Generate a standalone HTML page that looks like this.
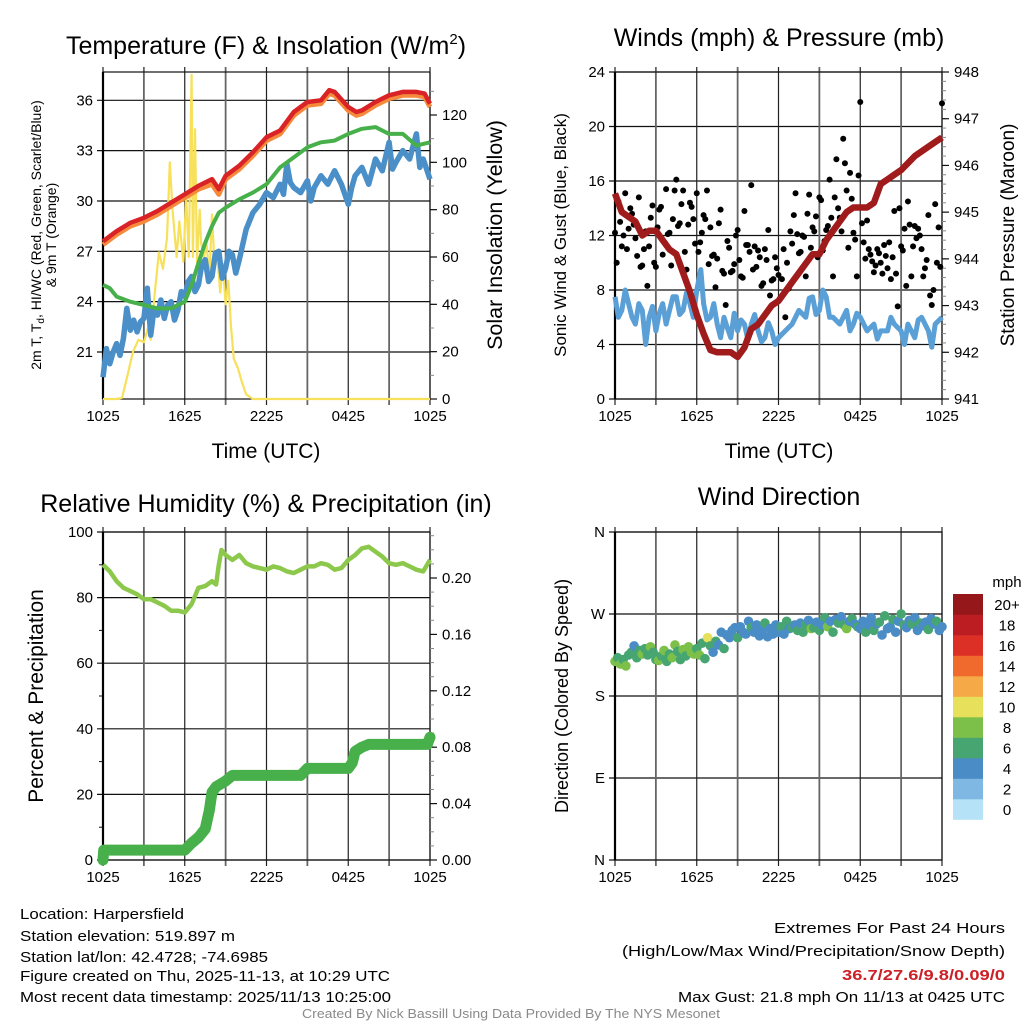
<!DOCTYPE html>
<html><head><meta charset="utf-8"><style>
html,body{margin:0;padding:0;background:#fff;}
svg{display:block;font-family:"Liberation Sans",sans-serif;}
.nar{font-family:"Liberation Sans Narrow","Liberation Sans",sans-serif;}
</style></head><body>
<svg id="c" width="1024" height="1024" viewBox="0 0 1024 1024" xmlns="http://www.w3.org/2000/svg">
<rect width="1024" height="1024" fill="#fff"/>
<g id="texts">
<text x="266" y="54" font-size="25" text-anchor="middle">Temperature (F) &amp; Insolation (W/m<tspan font-size="15" dy="-10">2</tspan><tspan dy="10">)</tspan></text>
<text x="779" y="46" font-size="25" text-anchor="middle">Winds (mph) &amp; Pressure (mb)</text>
<text x="266" y="512" font-size="25" text-anchor="middle">Relative Humidity (%) &amp; Precipitation (in)</text>
<text x="779" y="505" font-size="25" text-anchor="middle">Wind Direction</text>
<text x="266" y="458" font-size="21" text-anchor="middle">Time (UTC)</text>
<text x="779" y="458" font-size="21" text-anchor="middle">Time (UTC)</text>
<g transform="translate(41,235) rotate(-90)"><text x="0" y="0" font-size="14" text-anchor="middle">2m T, T<tspan font-size="10" dy="3">d</tspan><tspan dy="-3">, HI/WC (Red, Green, Scarlet/Blue)</tspan></text><text x="0" y="15" font-size="14" text-anchor="middle">&amp; 9m T (Orange)</text></g>
<text transform="translate(502,235) rotate(-90)" font-size="21.5" text-anchor="middle">Solar Insolation (Yellow)</text>
<text transform="translate(566,235) rotate(-90)" font-size="17" text-anchor="middle">Sonic Wind &amp; Gust (Blue, Black)</text>
<text transform="translate(1014,235) rotate(-90)" font-size="19" text-anchor="middle">Station Pressure (Maroon)</text>
<text transform="translate(43,696) rotate(-90)" font-size="21" text-anchor="middle">Percent &amp; Precipitation</text>
<text transform="translate(568,696) rotate(-90)" font-size="18" text-anchor="middle">Direction (Colored By Speed)</text>
<g class="nar" font-size="15">
<text x="20" y="919" textLength="164" lengthAdjust="spacingAndGlyphs">Location: Harpersfield</text>
<text x="20" y="941" textLength="215" lengthAdjust="spacingAndGlyphs">Station elevation: 519.897 m</text>
<text x="20" y="962" textLength="248" lengthAdjust="spacingAndGlyphs">Station lat/lon: 42.4728; -74.6985</text>
<text x="20" y="981" textLength="370" lengthAdjust="spacingAndGlyphs">Figure created on Thu, 2025-11-13, at 10:29 UTC</text>
<text x="20" y="1002" textLength="371" lengthAdjust="spacingAndGlyphs">Most recent data timestamp: 2025/11/13 10:25:00</text>
</g>
<g class="nar" font-size="15" text-anchor="end">
<text x="1005" y="933" textLength="231" lengthAdjust="spacingAndGlyphs">Extremes For Past 24 Hours</text>
<text x="1005" y="956" textLength="383" lengthAdjust="spacingAndGlyphs">(High/Low/Max Wind/Precipitation/Snow Depth)</text>
<text x="1005" y="980" textLength="163" lengthAdjust="spacingAndGlyphs" fill="#cc2027" font-weight="bold">36.7/27.6/9.8/0.09/0</text>
<text x="1005" y="1002" textLength="327" lengthAdjust="spacingAndGlyphs">Max Gust: 21.8 mph On 11/13 at 0425 UTC</text>
</g>
<text class="nar" x="511" y="1018" font-size="12.5" text-anchor="middle" fill="#8a8a8a" textLength="418" lengthAdjust="spacingAndGlyphs">Created By Nick Bassill Using Data Provided By The NYS Mesonet</text>
</g>
</svg>
<script>
// ---- Temperature panel data ----
const redT=[0,1,2,3,4,5,6,7,8,8.5,9,10,11,12,13,14,15,16,16.6,17,18,18.6,19,20,21,22,23,23.6,24];
const redV=[27.6,28.2,28.7,29.0,29.4,29.9,30.4,30.9,31.3,30.7,31.5,32.1,32.9,33.8,34.2,35.3,35.9,36.0,36.6,36.5,35.6,35.3,35.4,35.9,36.3,36.5,36.5,36.4,35.8];
const orangeV=[27.4,28.0,28.5,28.8,29.2,29.7,30.2,30.7,31.0,30.4,31.3,31.9,32.7,33.6,34.0,35.1,35.7,35.8,36.4,36.3,35.4,35.1,35.2,35.7,36.1,36.3,36.3,36.2,35.6];
const greenT=[0,0.5,1,2,3,4,5,6,6.5,7,7.5,8,8.5,9,10,11,12,13,14,15,16,17,18,19,20,21,22,23,24];
const greenV=[25.0,24.8,24.3,24.0,23.8,23.6,23.6,24.0,25.0,26.3,27.5,28.5,29.3,29.6,30.1,30.5,31.0,32.0,32.6,33.2,33.5,33.6,34.0,34.3,34.4,34.0,34.0,33.3,33.5];
const blueT=[0,0.25,0.5,0.75,1,1.25,1.5,1.75,2,2.25,2.5,2.75,3,3.25,3.5,3.75,4,4.25,4.5,4.75,5,5.25,5.5,5.75,6,6.25,6.5,6.75,7,7.25,7.5,7.75,8,8.25,8.5,8.75,9,9.25,9.5,9.75,10,10.5,11,11.5,12,12.5,13,13.25,13.5,13.75,14,14.5,15,15.25,15.5,16,16.5,17,17.5,18,18.25,18.5,19,19.5,20,20.5,21,21.25,21.5,22,22.5,23,23.25,23.5,24];
const blueV=[19.5,21.2,20.3,21.0,21.5,20.8,21.8,23.6,22.3,22.9,22.2,22.8,23.0,24.8,22.0,23.6,23.2,24.1,23.0,23.8,24.0,22.9,23.5,24.6,24.3,25.2,25.5,24.6,25.0,26.2,26.5,25.2,25.5,26.9,27.0,25.4,26.0,27.0,26.8,25.7,26.5,28.3,29.3,29.8,30.5,30.2,31.0,30.4,32.2,31.1,30.8,30.5,31.2,30.0,30.8,31.5,31.0,31.8,31.0,29.8,30.8,31.5,32.0,31.0,32.5,31.8,33.5,31.9,32.3,33.0,32.5,34.0,32.0,32.5,31.3];
const solarT=[0,1,1.4,1.8,2.2,2.6,3.0,3.3,3.5,3.8,4.1,4.4,4.7,4.9,5.1,5.4,5.6,5.9,6.1,6.3,6.5,6.6,6.75,6.9,7.1,7.2,7.4,7.6,7.8,8.0,8.2,8.4,8.6,8.8,9.0,9.2,9.4,9.6,9.9,10.2,10.5,11,11.5,24];
const solarV=[0,0,0.5,10,20,25,24,30,25,45,62,55,68,100,80,60,75,58,86,60,137,60,114,58,80,66,60,66,50,78,55,60,45,57,40,50,30,17,13,7,2,0,0,0];
const tempTicks=[21,24,27,30,33,36];
const solarTicks=[0,20,40,60,80,100,120];
const timeTicks=["1025","1625","2225","0425","1025"];
// ---- Wind panel data ----
const windT=[0,0.25,0.5,0.75,1,1.25,1.5,1.75,2,2.25,2.5,2.75,3,3.25,3.5,3.75,4,4.25,4.5,4.75,5,5.25,5.5,5.75,6,6.3,6.5,6.75,7,7.25,7.5,7.75,8,8.25,8.5,8.75,9,9.25,9.5,9.75,10,10.25,10.5,10.75,11,11.25,11.5,11.75,12,12.5,13,13.5,14,14.25,14.5,14.75,15,15.25,15.5,15.75,16,16.5,17,17.25,17.5,17.75,18,18.5,19,19.25,19.5,20,20.25,20.5,21,21.25,21.5,22,22.25,22.5,23,23.25,23.5,24];
const windV=[7.5,6.0,6.5,8.0,7.0,6.0,5.5,7.0,6.5,4.0,6.0,6.8,5.0,6.3,7.0,5.5,6.5,7.5,7.5,6.2,6.5,7.8,7.0,6.0,8.0,9.5,7.0,5.8,6.0,7.0,5.5,4.5,6.0,5.2,4.5,6.3,5.0,5.8,5.5,4.4,5.5,6.2,5.0,4.2,4.5,5.6,5.0,4.0,4.5,5.0,5.5,6.5,6.0,7.4,7.5,6.2,6.5,8.0,7.5,6.0,6.0,5.5,6.5,5.0,5.5,6.3,6.0,5.0,5.5,4.4,5.0,5.0,6.0,5.5,5.0,4.0,5.5,4.5,5.8,6.0,5.0,3.8,5.5,6.0];
const gustA=[12.2,14.5,11.2,15.1,12.5,13.6,11.8,14.8,9.8,12.3,11.2,14.2,9.7,13.9,10.6,15.4,12.2,13.2,16.1,12.9,15.3,9.5,14.4,13.2,15.1,11.5,13.5,15.3,12.6,10.6,10.3,13.9,9.2,11.6,9.3,9.9,12.4,9.0,13.8,11.3,15.7,11.2,10.9,8.3,11.0,12.4,8.7,10.4,9.1,8.8,6.0,8.1,11.4,15.1,10.7,12.0,9.0,15.0,12.6,13.4,14.8,10.9,12.4,16.1,9.0,17.6,13.3,19.1,15.3,16.6,12.2,9.0,21.8,11.5,13.1,10.6,9.3,11.0,10.0,11.3,9.6,8.8,13.8,6.8,11.2,12.5,14.5,9.0,12.7,12.5,11.0,9.6,13.5,6.9,14.3,12.6,21.7];
const gustB=[10.0,13.0,12.0,11.0,14.0,12.8,10.5,9.7,11.0,8.3,13.3,10.0,12.6,14.1,11.5,12.1,9.8,15.3,12.7,14.3,10.8,12.8,14.1,11.4,10.8,12.2,13.2,9.9,10.5,8.2,12.9,9.4,6.9,11.1,9.4,12.0,10.2,8.9,11.3,10.8,9.5,9.7,10.4,8.5,10.2,7.6,8.8,9.6,7.4,11.0,10.0,12.3,13.5,12.1,10.8,11.9,13.6,11.1,12.3,10.4,14.6,11.6,12.7,13.3,14.8,14.0,12.3,17.3,11.1,14.7,11.7,16.4,12.9,10.3,11.0,10.1,9.8,10.7,9.2,10.5,11.5,10.4,9.2,14.0,10.9,8.3,12.8,11.2,11.8,12.0,9.0,10.2,7.6,8.0,10.0,9.7];
const presT=[0,0.5,1,1.5,2,2.5,3,3.5,4,4.5,5,5.5,6,6.5,7,7.5,8,8.5,9,9.5,10,10.5,11,11.5,12,12.5,13,13.5,14,14.5,15,15.5,16,16.5,17,17.5,18,18.5,19,19.5,20,21,22,23,24];
const presV=[945.4,945.0,944.9,944.8,944.5,944.6,944.6,944.4,944.2,944.1,943.7,943.3,942.8,942.4,942.05,942.0,942.0,942.0,941.9,942.1,942.5,942.6,942.8,943.0,943.1,943.3,943.5,943.7,943.9,944.1,944.1,944.4,944.6,944.8,945.0,945.1,945.1,945.1,945.2,945.6,945.7,945.9,946.2,946.4,946.6];
const windTicks=[0,4,8,12,16,20,24];
const presTicks=[941,942,943,944,945,946,947,948];
// ---- Humidity panel data ----
const rhT=[0,0.5,1,1.5,2,2.5,3,3.5,4,4.5,5,5.5,6,6.5,7,7.5,8,8.3,8.5,8.7,9,9.5,10,10.5,11,11.5,12,12.5,13,13.5,14,14.5,15,15.5,16,16.5,17,17.5,18,18.5,19,19.5,20,20.5,21,21.5,22,22.5,23,23.5,24];
const rhV=[90,88,85,83,82,81,79.5,79.5,78.5,77.5,76,76,75.5,78,83,83.5,85,84,90,94.5,93,91.5,93,90.5,89.5,89,88.5,89.5,89,88,87.5,88.5,89.5,89.5,90.5,90,88.5,89,91.5,93,95,95.5,94,92.5,90.5,90,90.5,89.5,88.5,88,91.5];
const prT=[0,0.05,6,6.5,7,7.5,7.8,8,8.3,9,9.5,14.5,15,18,18.3,18.5,19,19.5,23.8,24];
const prV=[0,0.007,0.007,0.012,0.016,0.022,0.035,0.048,0.052,0.056,0.060,0.060,0.065,0.065,0.069,0.077,0.080,0.082,0.082,0.087];
const rhTicks=[0,20,40,60,80,100];
const prTicks=[0,0.04,0.08,0.12,0.16,0.20];
// ---- Wind direction data ----
const dirV=[218,222,215,220,213,225,228,235,222,230,226,232,225,234,228,220,219,224,230,218,226,222,236,229,220,231,224,234,228,226,232,
225,238,221,244,235,228,240,236,250,232,247,244,252,255,244,256,250,248,262,255,250,258,246,252,260,245,254,248,258,
250,256,248,262,254,255,258,252,260,250,259,263,254,255,261,252,258,266,256,262,250,264,260,267,258,254,262,265,259,256,
254,262,250,258,266,252,259,261,247,268,254,256,264,250,262,270,258,255,263,259,266,252,260,257,261,253,265,259,262,252,256];
const dirSpd=[8,7,8,6,8,7,6,5,7,6,8,7,6,8,7,6,8,7,8,6,7,8,8,7,6,8,7,8,9,8,7,
8,7,6,10,7,5,6,4,5,6,4,5,4,4,6,5,4,5,4,6,5,4,4,5,6,4,5,4,5,
5,6,4,6,5,7,4,6,5,7,6,4,8,6,5,7,4,6,8,5,6,4,7,5,6,8,4,6,5,7,
5,4,6,5,4,6,5,7,4,6,5,4,6,5,4,6,7,5,4,6,5,4,6,5,4,6,5,4,6,5,4];
const dirLabels=["N","E","S","W","N"];
const speedLabels=["0","2","4","6","8","10","12","14","16","18","20+"];
const speedColors=["#b5e2f6","#7fb9e3","#4a8cc5","#47a572","#7cc049","#e6e05a","#f5a947","#ef6a2c","#dc3027","#bc1d23","#961719"];

const NS="http://www.w3.org/2000/svg";
const svg=document.getElementById('c');
function el(tag,attrs,parent){const e=document.createElementNS(NS,tag);for(const k in attrs)e.setAttribute(k,attrs[k]);(parent||svg).appendChild(e);return e;}
function lin(d0,d1,r0,r1){return v=>r0+(v-d0)/(d1-d0)*(r1-r0);}
function pathD(ts,vs,fx,fy){return ts.map((t,i)=>(i?'L':'M')+fx(t).toFixed(1)+' '+fy(vs[i]).toFixed(1)).join('');}

function frame(g,x0,x1,y0,y1,fy,ticks,lab,fmt){
  ticks.forEach((v,i)=>{const y=fy(v);
    const l=el('line',{x1:x0-6,x2:x1,y1:y,y2:y,stroke:'#111','stroke-width':1.2},g);
    
    
    const t=el('text',{x:x0-10,y:y+5,'font-size':15,'text-anchor':'end'},g);
    t.textContent=fmt?fmt(v,i):v;
    
    
  });
  const fx=lin(0,24,x0,x1);
  for(let h=0;h<=24;h+=3){const x=fx(h);
    const l=el('line',{x1:x,x2:x,y1:y0-5,y2:y1+6,stroke:(h%6==0)?'#222':'#666','stroke-width':(h%6==0)?1.2:1.8},g);
    
    
  }
  timeTicks.forEach((s,i)=>{const t=el('text',{x:fx(i*6),y:y1+22,'font-size':15,'text-anchor':'middle'},g);
    t.textContent=s;
    
    });
  const b=el('rect',{x:x0,y:y0,width:x1-x0,height:y1-y0,fill:'none',stroke:'#111','stroke-width':1.2},g);
  
  
  el('line',{x1:x0,x2:x0,y1:y0,y2:y1,stroke:'#000','stroke-width':2.2},g);
  return fx;
}
function rightAxis(g,x1,fy,ticks,fmt,minorStep,d0,d1){
  if(minorStep){for(let v=d0;v<=d1+1e-9;v+=minorStep){el('line',{x1:x1,x2:x1+4,y1:fy(v),y2:fy(v),stroke:'#888','stroke-width':1},g);}}
  ticks.forEach(v=>{const y=fy(v);
    el('line',{x1:x1,x2:x1+7,y1:y,y2:y,stroke:'#111','stroke-width':1.2},g);
    const t=el('text',{x:x1+12,y:y+5,'font-size':15},g);
    t.textContent=fmt?fmt(v):v;
    
    });
}

// Panel 1
(function(){
  const g=el('g',{});
  
  
  const x0=103,x1=430,y0=72,y1=399;
  const fy=lin(36,21,100.3,352);
  const fs=lin(0,120,399,115);
  const fx=frame(g,x0,x1,y0,y1,fy,tempTicks);
  rightAxis(g,x1,fs,solarTicks,null,10,0,130);
  const s=el('path',{d:pathD(solarT,solarV,fx,fs),fill:'none',stroke:'#f7e05a','stroke-width':2.2,'stroke-linejoin':'round'},g);
  
  
  const b=el('path',{d:pathD(blueT,blueV,fx,fy),fill:'none',stroke:'#4a8fc8','stroke-width':5.5,'stroke-linejoin':'round'},g);
  
  
  const gr=el('path',{d:pathD(greenT,greenV,fx,fy),fill:'none',stroke:'#47b04a','stroke-width':4,'stroke-linejoin':'round'},g);
  
  
  const o=el('path',{d:pathD(redT,orangeV,fx,fy),fill:'none',stroke:'#f58a3a','stroke-width':5,'stroke-linejoin':'round'},g);
  
  
  const r=el('path',{d:pathD(redT,redV,fx,fy),fill:'none',stroke:'#d92326','stroke-width':4.5,'stroke-linejoin':'round'},g);
  
  
})();

// Panel 2
(function(){
  const g=el('g',{});
  
  
  const x0=615,x1=942,y0=72,y1=399;
  const fy=lin(0,24,y1,y0);
  const fp=lin(941,948,y1,y0);
  const fx=frame(g,x0,x1,y0,y1,fy,windTicks);
  rightAxis(g,x1,fp,presTicks,null,0.2,941,948);
  const b=el('path',{d:pathD(windT,windV,fx,fy),fill:'none',stroke:'#5a9fd6','stroke-width':5,'stroke-linejoin':'round'},g);
  
  
  gustA.forEach((v,i)=>{const c=el('circle',{cx:fx(i*0.25),cy:fy(v),r:3,fill:'#000'},g);
    
    });
  gustB.forEach((v,i)=>{const c=el('circle',{cx:fx(i*0.25+0.125),cy:fy(v),r:3,fill:'#000'},g);
    
    });
  const p=el('path',{d:pathD(presT,presV,fx,fp),fill:'none',stroke:'#a01c1c','stroke-width':6.5,'stroke-linejoin':'round'},g);
  
  
})();

// Panel 3
(function(){
  const g=el('g',{});
  
  
  const x0=103,x1=430,y0=532,y1=860;
  const fy=lin(0,100,y1,y0);
  const fp=lin(0,0.2,y1,578);
  const fx=frame(g,x0,x1,y0,y1,fy,rhTicks);
  for(let v=10;v<100;v+=20){el('line',{x1:x0-4,x2:x0,y1:fy(v),y2:fy(v),stroke:'#111'},g);}
  rightAxis(g,x1,fp,prTicks,v=>v.toFixed(2),0.01,0,0.23);
  const r=el('path',{d:pathD(rhT,rhV,fx,fy),fill:'none',stroke:'#8cc84b','stroke-width':4.5,'stroke-linejoin':'round'},g);
  
  
  const p=el('path',{d:pathD(prT,prV,fx,fp),fill:'none',stroke:'#47b04a','stroke-width':11,'stroke-linejoin':'round','stroke-linecap':'round'},g);
  
  
})();

// Panel 4
(function(){
  const g=el('g',{});
  
  
  const x0=615,x1=942,y0=532,y1=860;
  const fy=lin(0,360,y1,y0);
  const fx=frame(g,x0,x1,y0,y1,fy,[0,90,180,270,360],null,(v,i)=>dirLabels[i]);
  dirV.forEach((d,i)=>{const c=el('circle',{cx:fx(i*0.2),cy:fy(d),r:4.8,fill:speedColors[Math.min(10,Math.floor(dirSpd[i]/2))]},g);
    
    });
  const lg=el('g',{},g);
  
  
  const by0=594,bh=20.5;
  speedLabels.forEach((s,i)=>{const y=by0+(10-i)*bh;
    const r=el('rect',{x:953,y:y,width:30,height:bh+0.3,fill:speedColors[i]},lg);
    
    
    const t=el('text',{x:1007,y:y+16,'font-size':15,'text-anchor':'middle'},lg);
    t.textContent=s;
    
    });
  const m=el('text',{x:1007,y:587,'font-size':15,'text-anchor':'middle'},lg);
  m.textContent='mph';
  
  
})();
svg.appendChild(document.getElementById('texts'));
</script>
</body></html>
